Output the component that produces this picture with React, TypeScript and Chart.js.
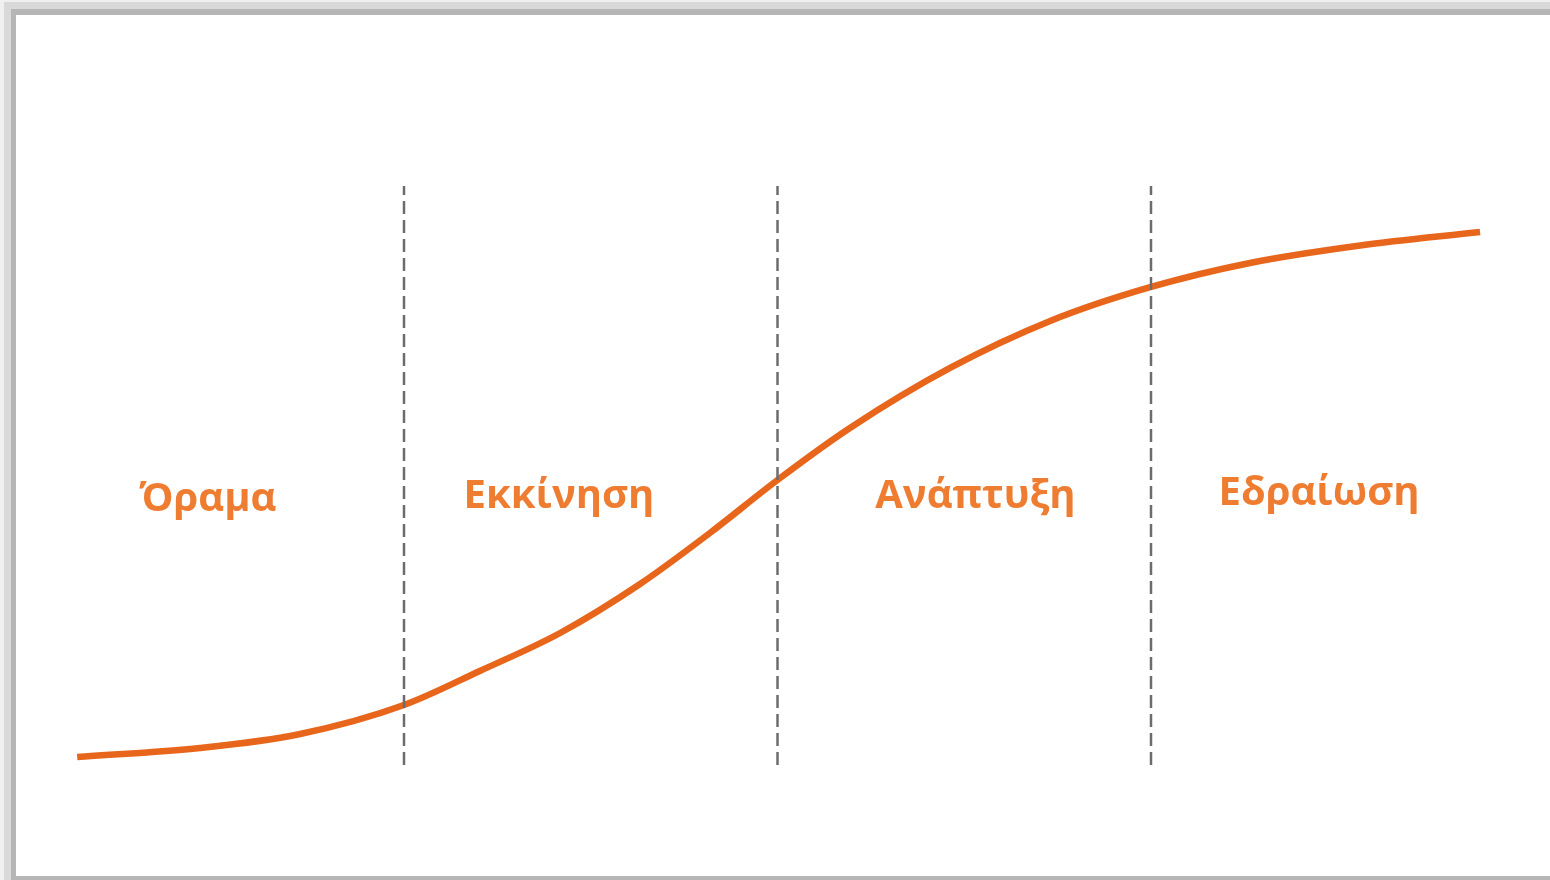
import React, { useEffect, useRef } from "react";
import { Chart, registerables } from "chart.js";

Chart.register(...registerables);

// Phase labels and where they sit (phase units on x, growth level on y)
const phaseLabels = ["Όραμα", "Εκκίνηση", "Ανάπτυξη", "Εδραίωση"];
const labelX = [0.475, 1.415, 2.53, 3.45];
const labelY = [44.8, 45.3, 45.3, 45.8];

// Phase boundaries
const boundaries = [1, 2, 3];
const boundaryRange = [2.5, 99];

// S-curve samples
const curveX = [0.125, 0.454, 0.722, 1.0, 1.203, 1.418, 1.632, 1.819, 2.0, 2.194, 2.462, 2.73, 3.0, 3.265, 3.56, 3.881];
const curveY = [3.83, 5.33, 7.67, 12.5, 18.17, 24.5, 32.67, 41.17, 50.0, 58.67, 68.67, 76.5, 82.17, 86.17, 89.08, 91.33];

const CURVE_COLOR = "#e8661c";
const TEXT_COLOR = "#ef7d31";
const DASH_COLOR = "#6c6c6c";

export default function App() {
  const canvasRef = useRef<HTMLCanvasElement | null>(null);

  useEffect(() => {
    const canvas = canvasRef.current;
    if (!canvas) return;

    const labelPlugin = {
      id: "phaseLabels",
      afterDatasetsDraw(chart: any) {
        const ctx = chart.ctx;
        const xs = chart.scales.x;
        const ys = chart.scales.y;
        ctx.save();
        ctx.fillStyle = TEXT_COLOR;
        ctx.font = "bold 40px 'Open Sans', 'Noto Sans', sans-serif";
        ctx.textAlign = "center";
        ctx.textBaseline = "alphabetic";
        phaseLabels.forEach((t, i) => {
          ctx.fillText(t, xs.getPixelForValue(labelX[i]), ys.getPixelForValue(labelY[i]));
        });
        ctx.restore();
      },
    };

    const dividerSets = boundaries.map((b) => ({
      type: "line" as const,
      data: [
        { x: b, y: boundaryRange[0] },
        { x: b, y: boundaryRange[1] },
      ],
      borderColor: DASH_COLOR,
      borderWidth: 2.5,
      borderDash: [13, 6],
      pointRadius: 0,
      fill: false,
      order: 1,
    }));

    const chart = new Chart(canvas, {
      type: "line",
      data: {
        datasets: [
          {
            data: curveX.map((x, i) => ({ x, y: curveY[i] })),
            borderColor: CURVE_COLOR,
            borderWidth: 6.5,
            borderCapStyle: "butt",
            cubicInterpolationMode: "monotone",
            pointRadius: 0,
            fill: false,
            order: 2,
          },
          ...dividerSets,
        ] as any,
      },
      options: {
        animation: false,
        responsive: false,
        devicePixelRatio: 1,
        layout: { padding: { left: 30.5, right: 25.5, top: 180, bottom: 100 } },
        plugins: { legend: { display: false }, tooltip: { enabled: false } },
        scales: {
          x: { type: "linear", min: 0, max: 4, display: false },
          y: { type: "linear", min: 0, max: 100, display: false },
        },
      },
      plugins: [labelPlugin],
    });

    return () => chart.destroy();
  }, []);

  return (
    <div style={{ position: "fixed", left: 0, top: 0, width: 1550, height: 880, background: "#f0f0f0", overflow: "hidden" }}>
      <div style={{ position: "absolute", left: 4, top: 2, right: 0, bottom: 0, background: "#d9d9d9" }} />
      <div style={{ position: "absolute", left: 11, top: 9, right: 0, bottom: 0, background: "#b6b6b6" }} />
      <div style={{ position: "absolute", left: 16, top: 15, right: 0, bottom: 4, background: "#ffffff" }} />
      <canvas ref={canvasRef} width={1550} height={880} style={{ position: "absolute", left: 0, top: 0, width: 1550, height: 880 }} />
    </div>
  );
}
